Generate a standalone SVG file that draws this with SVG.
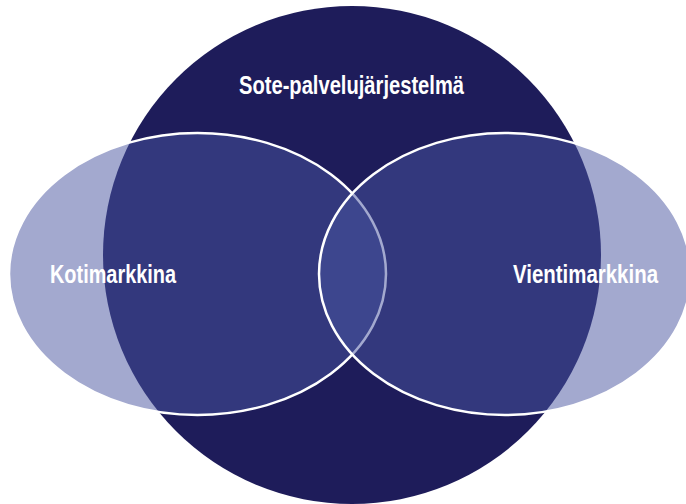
<svg xmlns="http://www.w3.org/2000/svg" width="686" height="504" viewBox="0 0 686 504">
<style>
.lbl{font-family:"Liberation Sans",Arial,sans-serif;font-weight:bold;font-size:25px;fill:#ffffff}
.ell{fill:#47539F;fill-opacity:0.5;stroke:#ffffff;stroke-width:2.5}
</style>
<rect width="686" height="504" fill="#ffffff"/>
<g id="sote">
<circle cx="352" cy="255" r="249" fill="#1E1C5A"/>
<text class="lbl" x="239" y="94" textLength="225" lengthAdjust="spacingAndGlyphs">Sote-palvelujärjestelmä</text>
</g>
<g id="kotimarkkina">
<ellipse class="ell" cx="197.5" cy="274" rx="188.5" ry="141"/>
</g>
<g id="vientimarkkina">
<ellipse class="ell" cx="505" cy="274" rx="186" ry="141"/>
</g>
<g id="connectors"></g>
<g id="labels">
<text class="lbl" x="50" y="283" textLength="126" lengthAdjust="spacingAndGlyphs">Kotimarkkina</text>
<text class="lbl" x="513" y="283" textLength="145" lengthAdjust="spacingAndGlyphs">Vientimarkkina</text>
</g>
</svg>
